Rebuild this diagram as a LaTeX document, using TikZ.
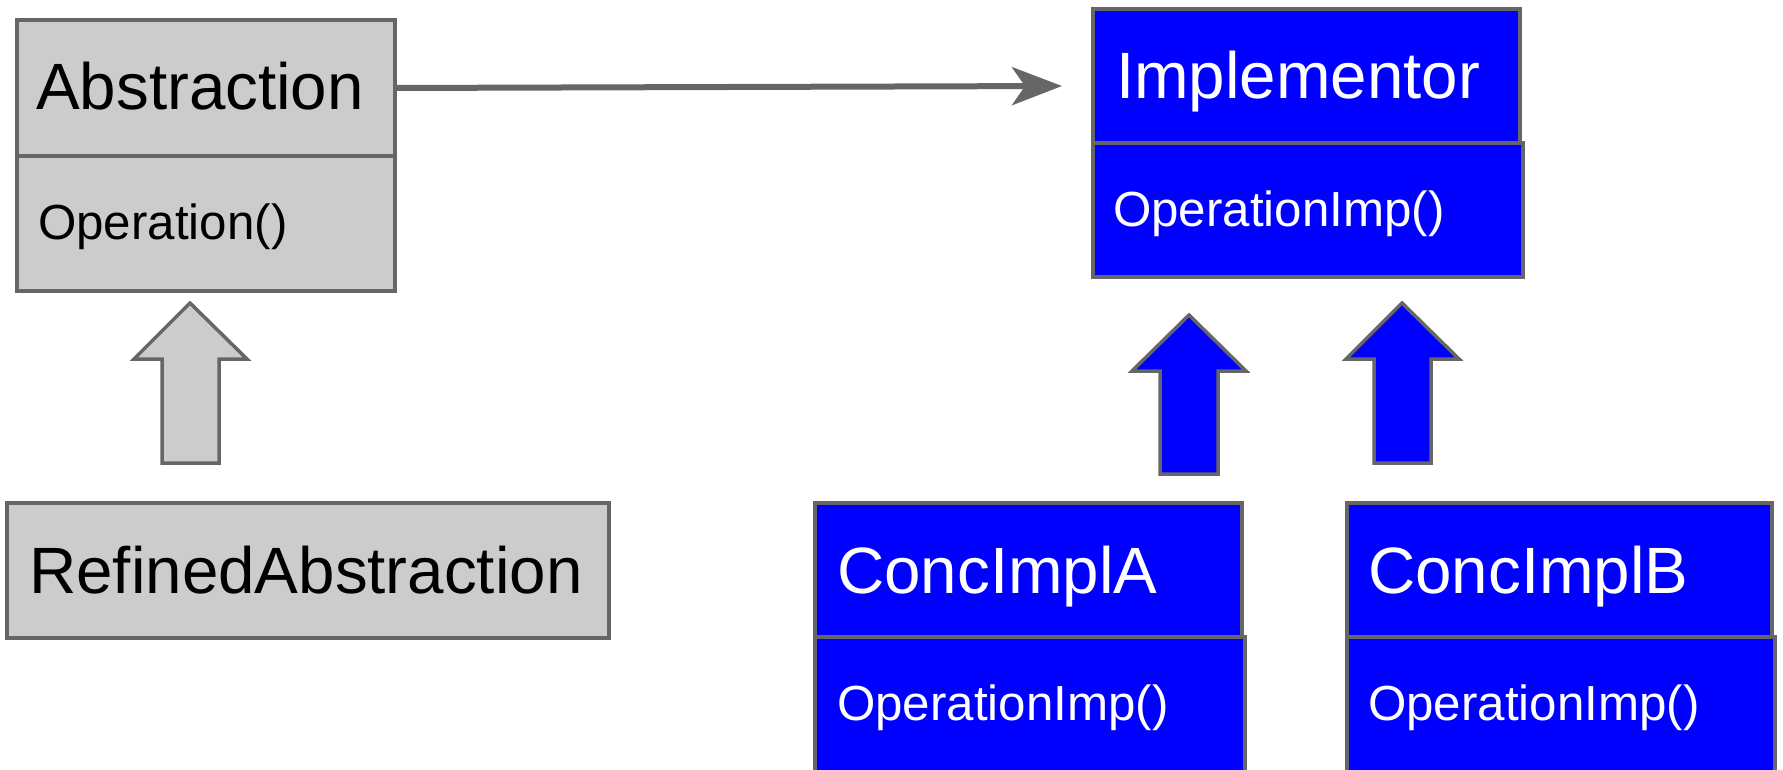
\documentclass[tikz,border=0pt]{standalone}
\usepackage{fontspec}
\setmainfont{Liberation Sans}
\usetikzlibrary{arrows.meta}
\definecolor{boxgray}{HTML}{CCCCCC}
\definecolor{edgegray}{HTML}{666666}
\definecolor{implblue}{HTML}{0000FF}

\begin{document}
\begin{tikzpicture}[x=1pt,y=-1pt,
  box/.style={draw=edgegray, line width=3.5pt, inner sep=0pt, outer sep=0pt,
              anchor=north west, rectangle},
  graybox/.style={box, fill=boxgray},
  bluebox/.style={box, fill=implblue},
  title/.style={anchor=base west, inner sep=0pt, font=\fontsize{65.5}{70}\selectfont},
  member/.style={anchor=base west, inner sep=0pt, font=\fontsize{49.3}{54}\selectfont},
  blockarrow/.style={draw=edgegray, line width=3.5pt, line join=miter},
  assoc/.style={draw=edgegray, line width=6pt,
                -{Stealth[length=50pt,width=38pt,inset=13pt]}}
]
\useasboundingbox (0,0) rectangle (1783,770);
\clip (0,0) rectangle (1783,770);

% Abstraction class
\node[graybox, minimum width=378pt, minimum height=135pt] (absops) at (17,156) {};
\node[graybox, minimum width=378pt, minimum height=136pt] (abs) at (17,20) {};
\node[title] (absname) at (36,110) {Abstraction};
\node[member] (absop) at (38,240) {Operation()};

% Implementor class
\node[bluebox, minimum width=430pt, minimum height=134pt] (implops) at (1093,143) {};
\node[bluebox, minimum width=427pt, minimum height=134pt] (impl) at (1093,9) {};
\node[title, text=white] (implname) at (1116,99) {Implementor};
\node[member, text=white] (implop) at (1113,227) {OperationImp()};

% RefinedAbstraction
\node[graybox, minimum width=602pt, minimum height=135pt] (refined) at (7,503) {};
\node[title] (refname) at (29,593) {RefinedAbstraction};

% ConcImplA
\node[bluebox, minimum width=430pt, minimum height=200pt] (caops) at (815,637) {};
\node[bluebox, minimum width=427pt, minimum height=134pt] (ca) at (815,503) {};
\node[title, text=white] (caname) at (837,593) {ConcImplA};
\node[member, text=white] (caop) at (837,720) {OperationImp()};

% ConcImplB
\node[bluebox, minimum width=428pt, minimum height=200pt] (cbops) at (1347,637) {};
\node[bluebox, minimum width=425pt, minimum height=134pt] (cb) at (1347,503) {};
\node[title, text=white] (cbname) at (1368,593) {ConcImplB};
\node[member, text=white] (cbop) at (1368,720) {OperationImp()};

% association Abstraction -> Implementor
\coordinate (assocend) at (1062,86);
\draw[assoc] (abs.east) -- (assocend);

% inheritance block arrows
\draw[blockarrow, fill=boxgray] (190,303) -- (247,359) -- (219,359) -- (219,463)
  -- (162,463) -- (162,359) -- (134,359) -- cycle;
\draw[blockarrow, fill=implblue] (1189,315) -- (1246,371) -- (1218,371) -- (1218,474)
  -- (1160,474) -- (1160,371) -- (1132,371) -- cycle;
\draw[blockarrow, fill=implblue] (1402,303) -- (1459,359) -- (1431,359) -- (1431,463)
  -- (1374,463) -- (1374,359) -- (1346,359) -- cycle;
\end{tikzpicture}
\end{document}
